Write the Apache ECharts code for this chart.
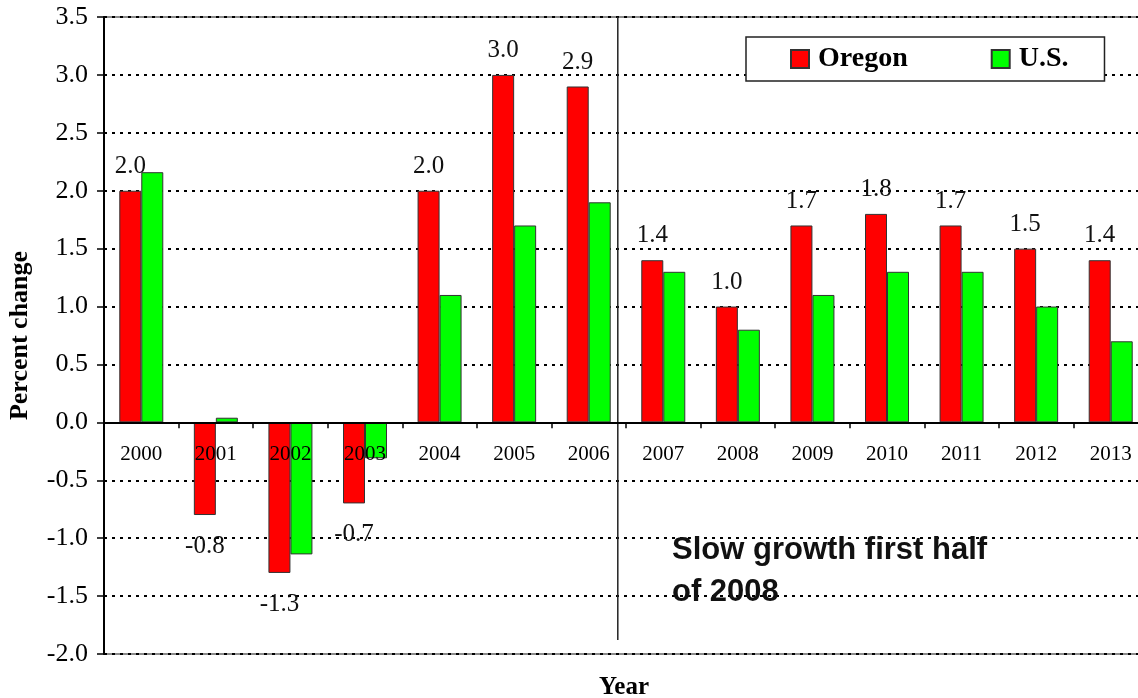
<!DOCTYPE html>
<html>
<head>
<meta charset="utf-8">
<script src="https://cdn.jsdelivr.net/npm/echarts@6/dist/echarts.min.js"></script>
<style>
  html, body { margin: 0; padding: 0; background: #fff; }
  #chart { width: 1138px; height: 698px; }
</style>
</head>
<body>
<div id="chart"></div>
<script>
// Annual percent change, Oregon vs. U.S.
const years = ['2000', '2001', '2002', '2003', '2004', '2005', '2006',
               '2007', '2008', '2009', '2010', '2011', '2012', '2013'];
const oregon = [2.0, -0.8, -1.3, -0.7, 2.0, 3.0, 2.9, 1.4, 1.0, 1.7, 1.8, 1.7, 1.5, 1.4];
const us = [2.16, 0.04, -1.14, -0.31, 1.1, 1.7, 1.9, 1.3, 0.8, 1.1, 1.3, 1.3, 1.0, 0.7];
const noteText = 'Slow growth first half\nof 2008';

const serif = '"Liberation Serif", "Times New Roman", Times, serif';
const sans = '"Liberation Sans", Arial, Helvetica, sans-serif';

const chart = echarts.init(document.getElementById('chart'), null, { renderer: 'canvas' });

// Oregon labels sit above positive bars and below negative ones
const oregonData = oregon.map(v => ({
  value: v,
  label: { position: v >= 0 ? 'top' : 'bottom', distance: v >= 0 ? 12 : 19 }
}));

chart.setOption({
  animation: false,
  backgroundColor: '#fff',
  grid: {
    left: 104, top: 17, width: 1044, height: 637,
    outerBoundsMode: 'none',
    containLabel: false,
    show: true, borderColor: '#666', borderWidth: 1.5, backgroundColor: 'transparent'
  },
  legend: {
    left: 746, top: 37,
    padding: [8, 36, 8, 44],
    itemGap: 83,
    itemWidth: 18, itemHeight: 18,
    icon: 'rect',
    backgroundColor: '#fff',
    borderColor: '#222', borderWidth: 1.5,
    textStyle: { fontFamily: serif, fontWeight: 'bold', fontSize: 28, color: '#000', padding: [0, 0, 0, 4] },
    data: ['Oregon', 'U.S.']
  },
  xAxis: {
    type: 'category',
    data: years,
    position: 'bottom',
    offset: 0,
    z: 5,
    axisLine: { onZero: false, lineStyle: { color: '#000', width: 2 } },
    axisTick: { show: true, length: 6, lineStyle: { color: '#000', width: 1.5 } },
    axisLabel: { fontFamily: serif, fontSize: 21, color: '#000', margin: 22 },
    splitLine: { show: false }
  },
  yAxis: {
    type: 'value',
    min: -2, max: 3.5, interval: 0.5,
    name: 'Percent change',
    nameLocation: 'middle',
    nameGap: 71,
    nameRotate: 90,
    nameTextStyle: { fontFamily: serif, fontWeight: 'bold', fontSize: 26, color: '#000' },
    axisLine: { show: true, lineStyle: { color: '#000', width: 2 } },
    axisTick: { show: true, length: 7, lineStyle: { color: '#000', width: 1.5 } },
    axisLabel: { fontFamily: serif, fontSize: 26, color: '#000', margin: 16,
                 formatter: v => v.toFixed(1) },
    splitLine: { show: true, lineStyle: { color: '#000', width: 2, type: [3, 5] } }
  },
  series: [
    {
      name: 'Oregon', type: 'bar',
      data: oregonData,
      barWidth: 22, barGap: '0%',
      itemStyle: { color: '#ff0000', borderColor: '#333', borderWidth: 1 },
      label: {
        show: true,
        fontFamily: serif, fontSize: 25, color: '#111',
        formatter: p => p.value.toFixed(1)
      }
    },
    {
      name: 'U.S.', type: 'bar',
      data: us,
      barWidth: 22, barGap: '0%',
      itemStyle: { color: '#00ff00', borderColor: '#333', borderWidth: 1 }
    }
  ]
});

// Move the category axis up onto the zero line of the value axis
const zeroY = chart.convertToPixel({ yAxisIndex: 0 }, 0);
const floorY = chart.convertToPixel({ yAxisIndex: 0 }, -2);
chart.setOption({ xAxis: { offset: zeroY - floorY } });

// Divider between the 2006 and 2007 groups, axis title and the note in the lower right
const step = chart.convertToPixel({ xAxisIndex: 0 }, '2007') - chart.convertToPixel({ xAxisIndex: 0 }, '2006');
const divX = chart.convertToPixel({ xAxisIndex: 0 }, '2006') + step * 0.39;
const divTop = chart.convertToPixel({ yAxisIndex: 0 }, 3.5);
const divBottom = chart.convertToPixel({ yAxisIndex: 0 }, -1.88);

chart.setOption({
  graphic: [
    {
      type: 'line', z: 3,
      shape: { x1: divX, y1: divTop, x2: divX, y2: divBottom },
      style: { stroke: '#222', lineWidth: 1.5 }
    },
    {
      type: 'text', z: 10, left: 599, top: 675,
      style: {
        text: 'Year',
        font: 'bold 25px ' + serif,
        fill: '#000'
      }
    },
    {
      type: 'text', z: 10, left: 672, top: 529,
      style: {
        text: noteText,
        font: 'bold 31px ' + sans,
        lineHeight: 42,
        fill: '#111'
      }
    }
  ]
});
</script>
</body>
</html>
